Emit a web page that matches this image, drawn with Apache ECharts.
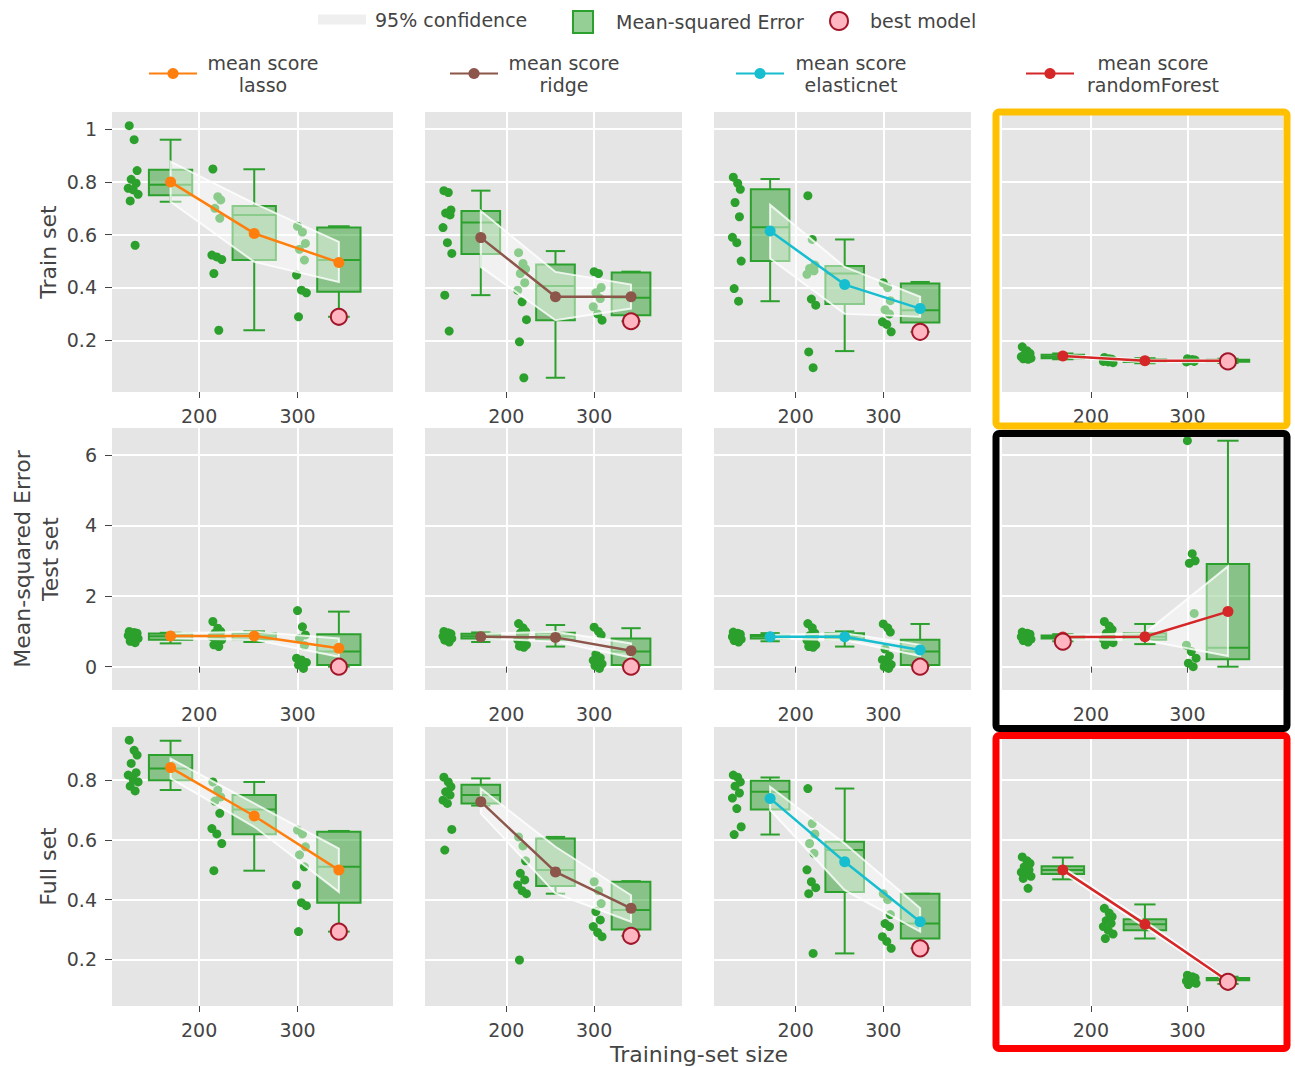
<!DOCTYPE html>
<html>
<head>
<meta charset="utf-8">
<script src="https://cdn.jsdelivr.net/npm/echarts@6/dist/echarts.min.js"></script>
<style>
  html, body { margin: 0; padding: 0; background: #fff; }
  #chart { width: 1295px; height: 1067px; }
</style>
</head>
<body>
<div id="chart"></div>
<script>
// Learning curves: cross-validated MSE per model (columns) for train / test / full set (rows)
const trainingSizes = [171, 256, 342];
const models = ['lasso', 'ridge', 'elasticnet', 'randomForest'];
const rowTitles = ['Train set', 'Mean-squared Error\nTest set', 'Full set'];
const yTickValues = [[0.2, 0.4, 0.6, 0.8, 1], [0, 2, 4, 6], [0.2, 0.4, 0.6, 0.8]];
const xTickValues = [200, 300];

// Box statistics per training size: [lower whisker, Q1, median, Q3, upper whisker]
// Fold scores per training size, mean score, 95% band (upper / lower), best model [size index, value]

// ---- Train set ----
const lassoTrainBoxes = [[0.725, 0.75, 0.789, 0.846, 0.96], [0.238, 0.504, 0.675, 0.709, 0.848], [0.289, 0.384, 0.504, 0.627, 0.632]];
const lassoTrainPoints = [[1.013, 0.96, 0.843, 0.81, 0.795, 0.776, 0.77, 0.753, 0.728, 0.56], [0.849, 0.744, 0.732, 0.70, 0.662, 0.523, 0.516, 0.506, 0.453, 0.238], [0.632, 0.61, 0.567, 0.545, 0.504, 0.447, 0.39, 0.38, 0.289]];
const lassoTrainMean = [0.80, 0.605, 0.495];
const lassoTrainUpper = [0.877, 0.719, 0.573];
const lassoTrainLower = [0.725, 0.497, 0.421];
const lassoTrainBest = [2, 0.289];

const ridgeTrainBoxes = [[0.371, 0.527, 0.646, 0.69, 0.767], [0.058, 0.276, 0.406, 0.487, 0.538], [0.272, 0.295, 0.361, 0.457, 0.46]];
const ridgeTrainPoints = [[0.767, 0.76, 0.694, 0.682, 0.675, 0.627, 0.57, 0.529, 0.371, 0.235], [0.532, 0.491, 0.47, 0.453, 0.418, 0.39, 0.346, 0.278, 0.194, 0.058], [0.46, 0.453, 0.40, 0.38, 0.358, 0.327, 0.30, 0.276]];
const ridgeTrainMean = [0.589, 0.365, 0.365];
const ridgeTrainUpper = [0.69, 0.459, 0.411];
const ridgeTrainLower = [0.478, 0.276, 0.32];
const ridgeTrainBest = [2, 0.272];

const elasticnetTrainBoxes = [[0.348, 0.5, 0.628, 0.772, 0.811], [0.159, 0.337, 0.453, 0.481, 0.582], [0.232, 0.267, 0.314, 0.415, 0.421]];
const elasticnetTrainPoints = [[0.818, 0.795, 0.772, 0.722, 0.668, 0.59, 0.57, 0.5, 0.396, 0.348], [0.748, 0.582, 0.485, 0.472, 0.463, 0.45, 0.356, 0.333, 0.156, 0.096], [0.418, 0.40, 0.35, 0.316, 0.30, 0.27, 0.26, 0.232]];
const elasticnetTrainMean = [0.614, 0.411, 0.32];
const elasticnetTrainUpper = [0.713, 0.478, 0.365];
const elasticnetTrainLower = [0.51, 0.30, 0.289];
const elasticnetTrainBest = [2, 0.232];

const forestTrainBoxes = [[0.128, 0.132, 0.138, 0.145, 0.15], [0.113, 0.118, 0.123, 0.127, 0.132], [0.114, 0.119, 0.123, 0.126, 0.13]];
const forestTrainPoints = [[0.175, 0.16, 0.15, 0.145, 0.14, 0.138, 0.135, 0.132, 0.13, 0.128], [0.135, 0.13, 0.128, 0.125, 0.122, 0.12, 0.118, 0.115], [0.13, 0.127, 0.125, 0.123, 0.12, 0.118]];
const forestTrainMean = [0.14, 0.122, 0.122];
const forestTrainUpper = [0.145, 0.127, 0.126];
const forestTrainLower = [0.135, 0.117, 0.118];
const forestTrainBest = [2, 0.12];

// ---- Test set ----
const lassoTestBoxes = [[0.66, 0.76, 0.86, 0.94, 0.96], [0.7, 0.78, 0.86, 0.95, 1.0], [0.0, 0.05, 0.43, 0.92, 1.56]];
const lassoTestPoints = [[1.0, 0.97, 0.95, 0.93, 0.9, 0.88, 0.85, 0.8, 0.72, 0.68], [1.28, 1.09, 1.0, 0.95, 0.9, 0.85, 0.8, 0.76, 0.62, 0.57], [1.59, 1.13, 0.9, 0.8, 0.6, 0.24, 0.19, 0.12, 0.05, -0.05]];
const lassoTestMean = [0.87, 0.87, 0.52];
const lassoTestUpper = [0.945, 0.99, 0.80];
const lassoTestLower = [0.80, 0.76, 0.28];
const lassoTestBest = [2, 0.0];

const ridgeTestBoxes = [[0.7, 0.8, 0.86, 0.93, 0.97], [0.57, 0.76, 0.86, 0.96, 1.18], [0.02, 0.05, 0.43, 0.80, 1.09]];
const ridgeTestPoints = [[1.0, 0.96, 0.93, 0.9, 0.88, 0.86, 0.83, 0.8, 0.75, 0.7], [1.22, 1.1, 1.0, 0.95, 0.85, 0.76, 0.7, 0.62, 0.58, 0.55], [1.12, 1.0, 0.9, 0.35, 0.25, 0.18, 0.12, 0.08, 0.03, -0.05]];
const ridgeTestMean = [0.85, 0.83, 0.45];
const ridgeTestUpper = [0.93, 0.99, 0.66];
const ridgeTestLower = [0.80, 0.71, 0.26];
const ridgeTestBest = [2, 0.0];

const elasticnetTestBoxes = [[0.72, 0.8, 0.86, 0.9, 0.95], [0.57, 0.77, 0.86, 0.95, 1.0], [0.02, 0.05, 0.43, 0.76, 1.21]];
const elasticnetTestPoints = [[0.98, 0.95, 0.92, 0.9, 0.87, 0.85, 0.82, 0.78, 0.74, 0.7], [1.22, 1.1, 0.95, 0.88, 0.8, 0.75, 0.68, 0.62, 0.57, 0.55], [1.21, 1.1, 0.98, 0.5, 0.3, 0.2, 0.12, 0.06, 0.0, -0.05]];
const elasticnetTestMean = [0.85, 0.85, 0.47];
const elasticnetTestUpper = [0.9, 0.95, 0.62];
const elasticnetTestLower = [0.8, 0.75, 0.3];
const elasticnetTestBest = [2, 0.0];

const forestTestBoxes = [[0.72, 0.8, 0.84, 0.88, 0.92], [0.64, 0.76, 0.85, 0.95, 1.21], [0.0, 0.21, 0.54, 2.91, 6.4]];
const forestTestPoints = [[0.98, 0.95, 0.92, 0.9, 0.88, 0.85, 0.82, 0.78, 0.74, 0.7], [1.28, 1.15, 1.05, 0.95, 0.85, 0.78, 0.72, 0.68, 0.62], [6.4, 3.2, 3.0, 2.93, 1.51, 0.61, 0.43, 0.24, 0.1, 0.0]];
const forestTestMean = [0.84, 0.85, 1.56];
const forestTestUpper = [0.9, 0.95, 2.84];
const forestTestLower = [0.78, 0.75, 0.30];
const forestTestBest = [0, 0.71];

// ---- Full set ----
const lassoFullBoxes = [[0.767, 0.8, 0.839, 0.884, 0.932], [0.497, 0.619, 0.702, 0.75, 0.794], [0.293, 0.39, 0.51, 0.627, 0.63]];
const lassoFullPoints = [[0.934, 0.9, 0.884, 0.856, 0.825, 0.817, 0.802, 0.794, 0.78, 0.764], [0.794, 0.767, 0.744, 0.73, 0.689, 0.638, 0.62, 0.588, 0.497], [0.633, 0.62, 0.577, 0.55, 0.51, 0.449, 0.39, 0.38, 0.293]];
const lassoFullMean = [0.842, 0.68, 0.499];
const lassoFullUpper = [0.872, 0.722, 0.571];
const lassoFullLower = [0.806, 0.644, 0.426];
const lassoFullBest = [2, 0.293];

const ridgeFullBoxes = [[0.715, 0.722, 0.75, 0.785, 0.806], [0.42, 0.446, 0.499, 0.605, 0.61], [0.279, 0.30, 0.365, 0.46, 0.462]];
const ridgeFullPoints = [[0.81, 0.794, 0.778, 0.761, 0.75, 0.733, 0.722, 0.635, 0.566], [0.61, 0.58, 0.53, 0.488, 0.466, 0.449, 0.43, 0.42, 0.198], [0.46, 0.43, 0.387, 0.36, 0.332, 0.31, 0.29, 0.276]];
const ridgeFullMean = [0.728, 0.493, 0.371];
const ridgeFullUpper = [0.772, 0.577, 0.415];
const ridgeFullLower = [0.689, 0.421, 0.326];
const ridgeFullBest = [2, 0.279];

const elasticnetFullBoxes = [[0.618, 0.702, 0.761, 0.798, 0.809], [0.22, 0.426, 0.566, 0.594, 0.772], [0.237, 0.27, 0.32, 0.42, 0.42]];
const elasticnetFullPoints = [[0.817, 0.81, 0.794, 0.78, 0.757, 0.74, 0.705, 0.644, 0.618], [0.772, 0.655, 0.62, 0.588, 0.555, 0.5, 0.46, 0.44, 0.42, 0.22], [0.42, 0.40, 0.35, 0.32, 0.31, 0.276, 0.26, 0.237]];
const elasticnetFullMean = [0.739, 0.527, 0.326];
const elasticnetFullUpper = [0.778, 0.588, 0.371];
const elasticnetFullLower = [0.70, 0.432, 0.293];
const elasticnetFullBest = [2, 0.237];

const forestFullBoxes = [[0.468, 0.486, 0.499, 0.512, 0.541], [0.27, 0.298, 0.318, 0.334, 0.384], [0.118, 0.13, 0.134, 0.138, 0.142]];
const forestFullPoints = [[0.543, 0.53, 0.521, 0.51, 0.499, 0.492, 0.486, 0.478, 0.471, 0.438], [0.371, 0.355, 0.343, 0.33, 0.321, 0.31, 0.298, 0.285, 0.27], [0.147, 0.142, 0.138, 0.135, 0.132, 0.128, 0.124, 0.12, 0.116]];
const forestFullMean = [0.499, 0.318, 0.128];
const forestFullUpper = [0.508, 0.328, 0.134];
const forestFullLower = [0.49, 0.308, 0.122];
const forestFullBest = [2, 0.125];

// Panels, row by row: [boxes, points, mean, upper, lower, best]
const panelRows = [
  [
    [lassoTrainBoxes, lassoTrainPoints, lassoTrainMean, lassoTrainUpper, lassoTrainLower, lassoTrainBest],
    [ridgeTrainBoxes, ridgeTrainPoints, ridgeTrainMean, ridgeTrainUpper, ridgeTrainLower, ridgeTrainBest],
    [elasticnetTrainBoxes, elasticnetTrainPoints, elasticnetTrainMean, elasticnetTrainUpper, elasticnetTrainLower, elasticnetTrainBest],
    [forestTrainBoxes, forestTrainPoints, forestTrainMean, forestTrainUpper, forestTrainLower, forestTrainBest]
  ],
  [
    [lassoTestBoxes, lassoTestPoints, lassoTestMean, lassoTestUpper, lassoTestLower, lassoTestBest],
    [ridgeTestBoxes, ridgeTestPoints, ridgeTestMean, ridgeTestUpper, ridgeTestLower, ridgeTestBest],
    [elasticnetTestBoxes, elasticnetTestPoints, elasticnetTestMean, elasticnetTestUpper, elasticnetTestLower, elasticnetTestBest],
    [forestTestBoxes, forestTestPoints, forestTestMean, forestTestUpper, forestTestLower, forestTestBest]
  ],
  [
    [lassoFullBoxes, lassoFullPoints, lassoFullMean, lassoFullUpper, lassoFullLower, lassoFullBest],
    [ridgeFullBoxes, ridgeFullPoints, ridgeFullMean, ridgeFullUpper, ridgeFullLower, ridgeFullBest],
    [elasticnetFullBoxes, elasticnetFullPoints, elasticnetFullMean, elasticnetFullUpper, elasticnetFullLower, elasticnetFullBest],
    [forestFullBoxes, forestFullPoints, forestFullMean, forestFullUpper, forestFullLower, forestFullBest]
  ]
];

// ---- layout & style ----
const FONT = 'DejaVu Sans, Verdana, sans-serif';
const TEXT = '#444';
const GREEN = '#2ca02c';
const GREEN_FILL = 'rgba(44,160,44,0.5)';
const modelColors = ['#ff7f0e', '#8c564b', '#17becf', '#d62728'];
const GRID_LEFT = [112, 425, 714, 1002];
const GRID_WIDTH = [281, 257, 257, 281];
const GRID_TOP = [112, 428, 727];
const GRID_HEIGHT = [280, 262, 279];
const X_MIN = [111.5, 107.5, 107, 108];
const X_MAX = [397, 400, 400, 399];
const Y_MIN = [0.004, -0.66, 0.044];
const Y_MAX = [1.065, 6.76, 0.978];
const BOX_HALF_WIDTH = 22;      // in training-set-size units
const POINT_SHIFT = -38;        // fold points sit left of their box
const JITTER = [-4, 1, 4, -2, 3, -5, 0, 5, -3, 2];

function renderBox(params, api) {
  const x = api.value(0);
  const lo = api.coord([x, api.value(1)]);
  const cx = lo[0], yLo = lo[1];
  const yQ1 = api.coord([x, api.value(2)])[1];
  const yMed = api.coord([x, api.value(3)])[1];
  const yQ3 = api.coord([x, api.value(4)])[1];
  const yHi = api.coord([x, api.value(5)])[1];
  const hw = api.size([BOX_HALF_WIDTH, 0])[0];
  const cw = hw / 2;
  const line = { stroke: GREEN, lineWidth: 2, fill: 'transparent' };
  return {
    type: 'group',
    children: [
      { type: 'line', shape: { x1: cx, y1: yQ3, x2: cx, y2: yHi }, style: line },
      { type: 'line', shape: { x1: cx, y1: yQ1, x2: cx, y2: yLo }, style: line },
      { type: 'line', shape: { x1: cx - cw, y1: yHi, x2: cx + cw, y2: yHi }, style: line },
      { type: 'line', shape: { x1: cx - cw, y1: yLo, x2: cx + cw, y2: yLo }, style: line },
      { type: 'rect', shape: { x: cx - hw, y: yQ3, width: 2 * hw, height: Math.max(yQ1 - yQ3, 1) },
        style: { fill: GREEN_FILL, stroke: GREEN, lineWidth: 2 } },
      { type: 'line', shape: { x1: cx - hw, y1: yMed, x2: cx + hw, y2: yMed }, style: line }
    ]
  };
}

function renderBand(params, api) {
  if (params.dataIndexInside !== 0) return { type: 'group', children: [] };
  const n = params.dataInsideLength;
  const top = [], bottom = [];
  for (let k = 0; k < n; k++) {
    const x = api.value(0, k);
    top.push(api.coord([x, api.value(1, k)]));
    bottom.unshift(api.coord([x, api.value(2, k)]));
  }
  return {
    type: 'polygon',
    shape: { points: top.concat(bottom) },
    style: { fill: 'rgba(255,255,255,0.45)', stroke: 'rgba(255,255,255,0.8)', lineWidth: 2 }
  };
}

const grid = [], xAxis = [], yAxis = [], series = [];

panelRows.forEach((row, r) => {
  row.forEach((panel, c) => {
    const [boxes, points, mean, upper, lower, best] = panel;
    const i = grid.length;
    const color = modelColors[c];

    grid.push({
      left: GRID_LEFT[c], top: GRID_TOP[r], width: GRID_WIDTH[c], height: GRID_HEIGHT[r],
      show: true, backgroundColor: '#e5e5e5', borderWidth: 0
    });

    xAxis.push({
      type: 'value', gridIndex: i, min: X_MIN[c], max: X_MAX[c],
      axisLine: { show: false },
      axisTick: { show: true, length: 6, lineStyle: { color: TEXT }, customValues: xTickValues },
      axisLabel: { customValues: xTickValues, color: TEXT, fontSize: 19, fontFamily: FONT, margin: 14 },
      splitLine: { show: true, lineStyle: { color: '#ffffff', width: 2 } }
    });

    yAxis.push({
      type: 'value', gridIndex: i, min: Y_MIN[r], max: Y_MAX[r],
      axisLine: { show: false },
      axisTick: { show: c === 0, length: 7, lineStyle: { color: TEXT }, customValues: yTickValues[r] },
      axisLabel: { show: c === 0, customValues: yTickValues[r], color: TEXT, fontSize: 19, fontFamily: FONT, margin: 15 },
      splitLine: { show: true, lineStyle: { color: '#ffffff', width: 2 } },
      name: c === 0 ? rowTitles[r] : '',
      nameLocation: 'middle',
      nameGap: r === 1 ? 48 : 50,
      nameTextStyle: { color: TEXT, fontSize: 22, fontFamily: FONT, lineHeight: 28 }
    });

    // fold scores
    const pts = [];
    points.forEach((grp, g) => {
      grp.forEach((v, k) => pts.push([trainingSizes[g] + POINT_SHIFT + JITTER[k % JITTER.length], v]));
    });
    series.push({
      type: 'scatter', name: 'fold scores', xAxisIndex: i, yAxisIndex: i, z: 2, silent: true,
      symbolSize: 9, itemStyle: { color: GREEN, opacity: 1 }, data: pts
    });

    // box plots
    series.push({
      type: 'custom', name: 'Mean-squared Error', xAxisIndex: i, yAxisIndex: i, z: 3, silent: true,
      itemStyle: { color: GREEN_FILL },
      encode: { x: 0, y: [1, 2, 3, 4, 5] },
      data: boxes.map((b, g) => [trainingSizes[g]].concat(b)),
      renderItem: renderBox
    });

    // 95% confidence band
    series.push({
      type: 'custom', name: '95% confidence', xAxisIndex: i, yAxisIndex: i, z: 4, silent: true,
      itemStyle: { color: '#f0f0f0' },
      encode: { x: 0, y: [1, 2] },
      data: trainingSizes.map((x, g) => [x, upper[g], lower[g]]),
      renderItem: renderBand
    });

    // mean score
    series.push({
      type: 'line', name: 'mean score ' + models[c], xAxisIndex: i, yAxisIndex: i, z: 5, silent: true,
      symbol: 'circle', symbolSize: 11, showSymbol: true,
      lineStyle: { color, width: 2.5 }, itemStyle: { color, opacity: 1 },
      data: trainingSizes.map((x, g) => [x, mean[g]])
    });

    // best model
    series.push({
      type: 'scatter', name: 'best model', xAxisIndex: i, yAxisIndex: i, z: 6, silent: true,
      symbolSize: 16,
      itemStyle: { color: '#ffb6c1', borderColor: '#a3162a', borderWidth: 2, opacity: 1 },
      data: [[trainingSizes[best[0]], best[1]]]
    });
  });
});

const legendText = { color: TEXT, fontSize: 19, fontFamily: FONT };
const meanLegend = (model, left, textWidth) => ({
  data: ['mean score ' + model], left, top: 53, padding: 0, selectedMode: false,
  itemWidth: 48, itemHeight: 14,
  formatter: name => '{t|mean score}\n{t|' + name.replace('mean score ', '') + '}',
  textStyle: Object.assign({}, legendText, {
    rich: { t: { width: textWidth, align: 'center', color: TEXT, fontSize: 19, fontFamily: FONT, lineHeight: 22 } }
  })
});

const option = {
  animation: false,
  backgroundColor: '#ffffff',
  grid, xAxis, yAxis, series,
  legend: [
    { data: [{ name: '95% confidence', icon: 'rect', itemStyle: { color: '#efefef', borderWidth: 0 } }],
      left: 318, top: 10, padding: 0, selectedMode: false, itemWidth: 48, itemHeight: 10,
      textStyle: Object.assign({ padding: [0, 0, 0, 4] }, legendText) },
    { data: [{ name: 'Mean-squared Error', icon: 'rect', itemStyle: { color: GREEN_FILL, borderColor: GREEN, borderWidth: 2 } }],
      left: 572, top: 10, padding: 0, selectedMode: false, itemWidth: 20, itemHeight: 22,
      textStyle: Object.assign({ padding: [0, 0, 0, 18] }, legendText) },
    { data: [{ name: 'best model', icon: 'circle', itemStyle: { color: '#ffb6c1', borderColor: '#a3162a', borderWidth: 2 } }],
      left: 829, top: 11, padding: 0, selectedMode: false, itemWidth: 18, itemHeight: 18,
      textStyle: Object.assign({ padding: [0, 0, 0, 17] }, legendText) },
    meanLegend('lasso', 148, 122),
    meanLegend('ridge', 449, 122),
    meanLegend('elasticnet', 735, 124),
    meanLegend('randomForest', 1025, 148)
  ],
  graphic: [
    { type: 'rect', silent: true, z: 100, shape: { x: 996, y: 112, width: 291, height: 314, r: 3 },
      style: { fill: 'transparent', stroke: '#ffc000', lineWidth: 7 } },
    { type: 'rect', silent: true, z: 100, shape: { x: 996, y: 433.5, width: 291, height: 295, r: 3 },
      style: { fill: 'transparent', stroke: '#000000', lineWidth: 7 } },
    { type: 'rect', silent: true, z: 100, shape: { x: 996, y: 735.5, width: 291, height: 313, r: 3 },
      style: { fill: 'transparent', stroke: '#ff0000', lineWidth: 7 } },
    { type: 'text', silent: true, z: 100, x: 699, y: 1054,
      style: { text: 'Training-set size', fill: TEXT, fontSize: 22, fontFamily: FONT, align: 'center', verticalAlign: 'middle' } }
  ]
};

const chart = echarts.init(document.getElementById('chart'), null, { renderer: 'svg' });
chart.setOption(option);
</script>
</body>
</html>
